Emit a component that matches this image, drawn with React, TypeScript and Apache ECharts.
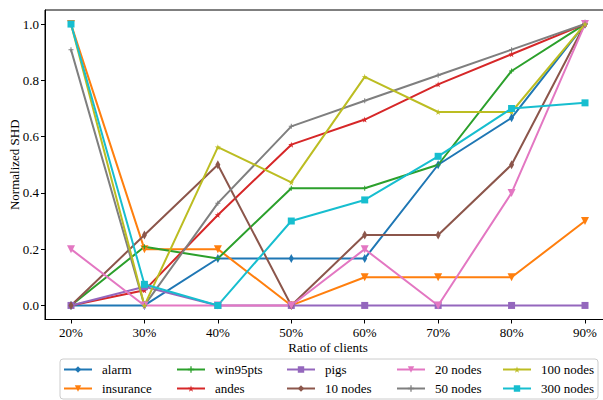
import React, { useEffect, useRef } from "react";
import * as echarts from "echarts";

const ratios = [20, 30, 40, 50, 60, 70, 80, 90];
const xTicks = [20, 30, 40, 50, 60, 70, 80, 90];
const yTicks = [0, 0.2, 0.4, 0.6, 0.8, 1.0];

const alarm = [0, 0, 0.1667, 0.1667, 0.1667, 0.5, 0.6667, 1.0];
const insurance = [1.0, 0.2, 0.2, 0, 0.1, 0.1, 0.1, 0.3];
const win95pts = [0, 0.2083, 0.1667, 0.4167, 0.4167, 0.5, 0.8333, 1.0];
const andes = [0, 0.0536, 0.3214, 0.5714, 0.6607, 0.7857, 0.8929, 1.0];
const pigs = [0, 0.0667, 0, 0, 0, 0, 0, 0];
const nodes10 = [0, 0.25, 0.5, 0, 0.25, 0.25, 0.5, 1.0];
const nodes20 = [0.2, 0, 0, 0, 0.2, 0, 0.4, 1.0];
const nodes50 = [0.9091, 0, 0.3636, 0.6364, 0.7273, 0.8182, 0.9091, 1.0];
const nodes100 = [1.0, 0, 0.5625, 0.4375, 0.8125, 0.6875, 0.6875, 1.0];
const nodes300 = [1.0, 0.075, 0, 0.3, 0.375, 0.53, 0.7, 0.72];

const FONT = "'Liberation Serif', 'Times New Roman', serif";

const plus = "path://M2,0L3,0L3,2L5,2L5,3L3,3L3,5L2,5L2,3L0,3L0,2L2,2Z";
const star = "path://M50,0L61,35L98,35L68,57L79,91L50,70L21,91L32,57L2,35L39,35Z";

const seriesDefs = [
  { name: "alarm", data: alarm, color: "#1f77b4", symbol: "diamond", size: [5, 9], rot: 0 },
  { name: "insurance", data: insurance, color: "#ff7f0e", symbol: "triangle", size: 8, rot: 180 },
  { name: "win95pts", data: win95pts, color: "#2ca02c", symbol: plus, size: 5, rot: 0 },
  { name: "andes", data: andes, color: "#d62728", symbol: star, size: 6, rot: 0 },
  { name: "pigs", data: pigs, color: "#9467bd", symbol: "rect", size: 7, rot: 0 },
  { name: "10 nodes", data: nodes10, color: "#8c564b", symbol: "diamond", size: [5, 9], rot: 0 },
  { name: "20 nodes", data: nodes20, color: "#e377c2", symbol: "triangle", size: 8, rot: 180 },
  { name: "50 nodes", data: nodes50, color: "#7f7f7f", symbol: plus, size: 5, rot: 0 },
  { name: "100 nodes", data: nodes100, color: "#bcbd22", symbol: star, size: 6, rot: 0 },
  { name: "300 nodes", data: nodes300, color: "#17becf", symbol: "rect", size: 7, rot: 0 },
];

const legendCols = [
  { left: 63, names: ["alarm", "insurance"] },
  { left: 176, names: ["win95pts", "andes"] },
  { left: 286, names: ["pigs", "10 nodes"] },
  { left: 396, names: ["20 nodes", "50 nodes"] },
  { left: 502, names: ["100 nodes", "300 nodes"] },
];

export default function App() {
  const ref = useRef<HTMLDivElement>(null);
  useEffect(() => {
    if (!ref.current) return;
    const chart = echarts.init(ref.current, null, { renderer: "svg" });
    const option: any = {
      animation: false,
      backgroundColor: "#fff",
      grid: {
        left: 45,
        top: 10,
        width: 566,
        height: 309.5,
        containLabel: false,
        outerBoundsMode: "none",
        show: true,
        borderColor: "#000",
        borderWidth: 1,
        backgroundColor: "transparent",
      },
      xAxis: {
        type: "value",
        min: 16.46,
        max: 93.54,
        name: "Ratio of clients",
        nameLocation: "middle",
        nameGap: 21,
        nameMoveOverlap: false,
        nameTextStyle: { fontFamily: FONT, fontSize: 13, color: "#000" },
        axisLine: { show: true, onZero: false, lineStyle: { color: "#000", width: 1 } },
        axisTick: { show: true, length: 4, lineStyle: { color: "#000" }, customValues: xTicks },
        axisLabel: {
          fontFamily: FONT,
          fontSize: 13,
          color: "#000",
          margin: 6,
          customValues: xTicks,
          formatter: (v: number) => `${Math.round(v)}%`,
        },
        splitLine: { show: false },
      },
      yAxis: {
        type: "value",
        min: -0.05,
        max: 1.05,
        name: "Normalized SHD",
        nameLocation: "middle",
        nameGap: 24,
        nameMoveOverlap: false,
        nameTextStyle: { fontFamily: FONT, fontSize: 13, color: "#000" },
        axisLine: { show: true, onZero: false, lineStyle: { color: "#000", width: 1 } },
        axisTick: { show: true, length: 4, lineStyle: { color: "#000" }, customValues: yTicks },
        axisLabel: {
          fontFamily: FONT,
          fontSize: 13,
          color: "#000",
          margin: 6,
          customValues: yTicks,
          formatter: (v: number) => v.toFixed(1),
        },
        splitLine: { show: false },
      },
      legend: legendCols.map((c) => ({
        data: c.names,
        orient: "vertical",
        left: c.left,
        top: 362,
        height: 38,
        itemWidth: 28,
        itemHeight: 8,
        itemGap: 4,
        padding: 0,
        textStyle: { fontFamily: FONT, fontSize: 13, color: "#000", padding: [0, 0, 0, 5], lineHeight: 15 },
      })),
      graphic: [
        {
          type: "rect",
          shape: { x: 60, y: 359, width: 538, height: 40, r: 3 },
          style: { fill: "rgba(255,255,255,0.8)", stroke: "#cccccc", lineWidth: 1 },
          z: -1,
        },
      ],
      series: seriesDefs.map((s) => ({
        name: s.name,
        type: "line",
        data: ratios.map((r, i) => [r, s.data[i]]),
        symbol: s.symbol,
        symbolSize: s.size,
        symbolRotate: s.rot,
        showSymbol: true,
        lineStyle: { color: s.color, width: 2 },
        itemStyle: { color: s.color },
        emphasis: { disabled: true },
      })),
    };
    chart.setOption(option);
    return () => chart.dispose();
  }, []);
  return <div ref={ref} style={{ width: 603, height: 400, position: "absolute", left: 0, top: 0 }} />;
}
